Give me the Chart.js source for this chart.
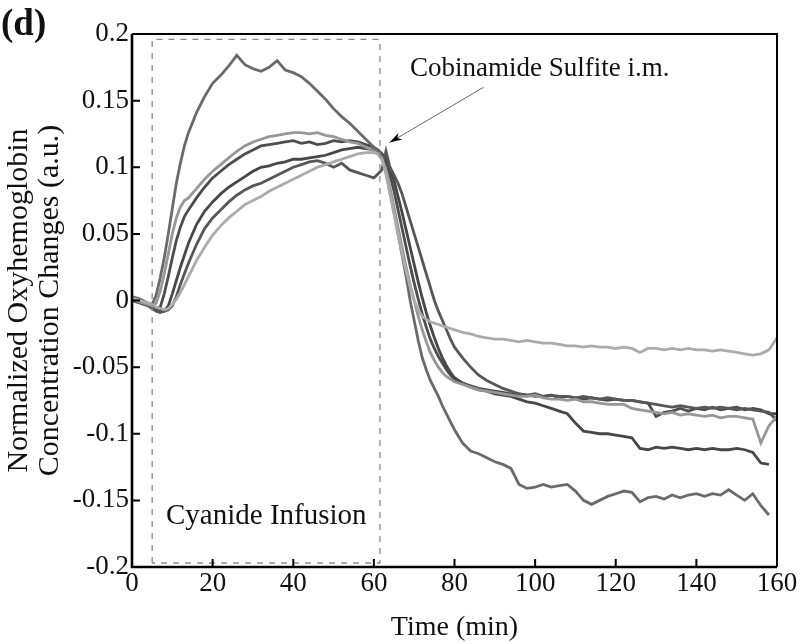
<!DOCTYPE html>
<html><head><meta charset="utf-8">
<script src="https://cdn.jsdelivr.net/npm/chart.js@4/dist/chart.umd.min.js"></script>
<style>html,body{margin:0;padding:0;background:#fff}</style>
</head><body>
<canvas id="c" width="800" height="644"></canvas>
<script>
// Time grid (min)
const time = [0,2,4,5,6,7,8,9,10,11,12,13,14,
  16,18,20,22,24,26,28,30,32,34,36,38,40,42,44,46,48,50,52,54,56,58,60,
  61,62,63,64,65,66,67,68,69,70,71,72,73,74,75,76,77,78,79,80,
  82,84,86,88,90,92,94,96,98,100,102,104,106,108,110,112,114,116,118,120,
  122,124,126,128,130,132,134,136,138,140,142,144,146,148,150,152,154,156,158,160];

// Series values (normalized oxyhemoglobin change, a.u.)
const seriesA = [0.003,0.001,-0.002,-0.003,0.004,0.017,0.032,0.05,0.069,0.088,0.103,0.116,0.126,
  0.141,0.153,0.163,0.169,0.176,0.184,0.177,0.174,0.172,0.175,0.18,0.173,0.171,0.168,0.163,0.157,0.151,0.144,0.138,0.133,0.127,0.121,0.115,
  0.112,0.108,0.096,0.081,0.066,0.05,0.034,0.018,0.0,-0.015,-0.03,-0.043,-0.052,-0.06,-0.066,-0.072,-0.079,-0.085,-0.091,-0.097,
  -0.107,-0.113,-0.115,-0.118,-0.121,-0.123,-0.126,-0.138,-0.141,-0.14,-0.138,-0.14,-0.139,-0.138,-0.143,-0.15,-0.153,-0.15,-0.147,-0.145,
  -0.143,-0.144,-0.151,-0.148,-0.147,-0.149,-0.146,-0.148,-0.146,-0.145,-0.147,-0.145,-0.146,-0.142,-0.146,-0.15,-0.145,-0.154,-0.161,null];
const seriesB = [0.001,-0.001,-0.003,-0.004,-0.002,0.007,0.02,0.035,0.05,0.062,0.07,0.075,0.077,
  0.084,0.091,0.097,0.102,0.107,0.112,0.116,0.119,0.121,0.123,0.124,0.125,0.126,0.126,0.125,0.126,0.124,0.123,0.121,0.119,0.118,0.115,0.112,
  0.11,0.106,0.098,0.085,0.07,0.055,0.04,0.025,0.012,0.0,-0.012,-0.022,-0.031,-0.039,-0.045,-0.05,-0.054,-0.057,-0.059,-0.061,
  -0.063,-0.065,-0.067,-0.068,-0.069,-0.07,-0.071,-0.072,-0.072,-0.071,-0.073,-0.074,-0.074,-0.075,-0.074,-0.076,-0.076,-0.077,-0.078,-0.078,
  -0.078,-0.081,-0.082,-0.083,-0.084,-0.085,-0.084,-0.086,-0.085,-0.086,-0.087,-0.086,-0.088,-0.087,-0.087,-0.088,-0.089,-0.107,-0.094,-0.087];
const seriesC = [0.002,0.0,-0.002,-0.004,-0.006,-0.005,0.005,0.018,0.032,0.045,0.055,0.063,0.068,
  0.077,0.085,0.092,0.097,0.102,0.106,0.11,0.113,0.116,0.117,0.118,0.119,0.12,0.118,0.119,0.117,0.118,0.12,0.119,0.12,0.119,0.117,0.115,
  0.113,0.11,0.104,0.094,0.082,0.068,0.054,0.04,0.026,0.013,0.001,-0.01,-0.02,-0.029,-0.036,-0.042,-0.047,-0.052,-0.056,-0.059,
  -0.062,-0.064,-0.066,-0.067,-0.068,-0.069,-0.07,-0.07,-0.071,-0.072,-0.072,-0.071,-0.073,-0.072,-0.073,-0.074,-0.073,-0.074,-0.075,-0.074,
  -0.075,-0.075,-0.076,-0.077,-0.087,-0.084,-0.083,-0.081,-0.083,-0.081,-0.082,-0.08,-0.082,-0.081,-0.08,-0.082,-0.081,-0.082,-0.085,-0.085];
const seriesD = [0.001,-0.001,-0.003,-0.005,-0.007,-0.008,-0.008,-0.004,0.005,0.015,0.025,0.034,0.043,
  0.057,0.067,0.074,0.08,0.085,0.089,0.093,0.097,0.1,0.101,0.103,0.104,0.106,0.106,0.107,0.108,0.109,0.111,0.113,0.114,0.115,0.114,0.113,
  0.112,0.11,0.106,0.099,0.09,0.078,0.066,0.053,0.04,0.027,0.014,0.002,-0.009,-0.019,-0.028,-0.036,-0.043,-0.049,-0.054,-0.058,
  -0.062,-0.065,-0.067,-0.068,-0.07,-0.071,-0.072,-0.074,-0.076,-0.077,-0.079,-0.081,-0.083,-0.085,-0.092,-0.098,-0.099,-0.1,-0.1,-0.101,
  -0.102,-0.103,-0.111,-0.112,-0.11,-0.111,-0.11,-0.111,-0.112,-0.111,-0.112,-0.111,-0.112,-0.112,-0.111,-0.112,-0.114,-0.122,-0.123,null];
const seriesE = [0.0,-0.002,-0.004,-0.006,-0.008,-0.009,-0.008,-0.007,-0.004,0.003,0.012,0.02,0.028,
  0.042,0.054,0.062,0.068,0.074,0.079,0.083,0.086,0.088,0.091,0.094,0.097,0.1,0.102,0.104,0.105,0.103,0.1,0.103,0.098,0.096,0.094,0.092,
  0.095,0.098,0.112,0.1,0.094,0.088,0.08,0.07,0.06,0.05,0.04,0.03,0.02,0.01,0.0,-0.008,-0.015,-0.022,-0.029,-0.035,
  -0.043,-0.05,-0.056,-0.06,-0.063,-0.066,-0.068,-0.07,-0.071,-0.07,-0.072,-0.071,-0.072,-0.072,-0.073,-0.072,-0.073,-0.074,-0.073,-0.074,
  -0.075,-0.075,-0.076,-0.077,-0.078,-0.079,-0.08,-0.079,-0.08,-0.081,-0.08,-0.081,-0.08,-0.081,-0.082,-0.081,-0.082,-0.083,-0.084,-0.09];
const seriesG = [0.002,0.0,-0.002,-0.003,-0.005,-0.006,-0.007,-0.006,-0.003,0.001,0.006,0.012,0.018,
  0.03,0.04,0.049,0.056,0.062,0.067,0.072,0.075,0.078,0.082,0.085,0.088,0.091,0.094,0.097,0.1,0.102,0.104,0.106,0.108,0.11,0.111,0.111,
  0.11,0.106,0.095,0.08,0.065,0.05,0.035,0.022,0.01,0.0,-0.007,-0.012,-0.014,-0.016,-0.017,-0.018,-0.019,-0.02,-0.021,-0.022,
  -0.024,-0.025,-0.027,-0.028,-0.029,-0.029,-0.03,-0.031,-0.03,-0.031,-0.032,-0.032,-0.033,-0.034,-0.034,-0.035,-0.034,-0.035,-0.035,-0.036,
  -0.035,-0.036,-0.039,-0.036,-0.036,-0.037,-0.036,-0.037,-0.036,-0.037,-0.037,-0.038,-0.037,-0.038,-0.039,-0.04,-0.041,-0.04,-0.037,-0.028];

// Cyanide infusion window (dashed box)
const infusionX = [5, 5, 61.5, 61.5, 5];
const infusionY = [-0.197, 0.196, 0.196, -0.197, -0.197];

// Ticks
const xTickValues = [0,20,40,60,80,100,120,140,160];
const yTickValues = [0.2,0.15,0.1,0.05,0,-0.05,-0.1,-0.15,-0.2];

// Annotation anchors (data coords)
const arrowFrom = {x: 87.2, y: 0.16};
const arrowTo = {x: 63.9, y: 0.1185};

const SERIF = '"Liberation Serif", "Times New Roman", serif';

function pts(vals){ return time.map((t,i)=>({x:t, y:vals[i]})); }
function line(vals, color){
  return {data: pts(vals), borderColor: color, borderWidth: 2.8, pointRadius: 0, tension: 0, fill: false, spanGaps: false};
}

const decor = {
  id: 'decor',
  afterDraw(chart){
    const {ctx, chartArea: a, scales: {x, y}} = chart;
    ctx.save();
    ctx.strokeStyle = '#000';
    ctx.lineWidth = 2;
    ctx.beginPath();
    ctx.moveTo(a.left, a.top); ctx.lineTo(a.right, a.top); ctx.lineTo(a.right, a.bottom);
    ctx.stroke();
    ctx.lineWidth = 2.6;
    ctx.beginPath();
    ctx.moveTo(a.left, a.top); ctx.lineTo(a.left, a.bottom); ctx.lineTo(a.right, a.bottom);
    ctx.stroke();
    ctx.lineWidth = 2;
    ctx.beginPath();
    xTickValues.slice(1, -1).forEach(v => { const px = x.getPixelForValue(v); ctx.moveTo(px, a.bottom); ctx.lineTo(px, a.bottom - 8); });
    yTickValues.slice(1, -1).forEach(v => { const py = y.getPixelForValue(v); ctx.moveTo(a.left, py); ctx.lineTo(a.left + 8, py); });
    ctx.stroke();
    const x1 = x.getPixelForValue(arrowFrom.x), y1 = y.getPixelForValue(arrowFrom.y);
    const x2 = x.getPixelForValue(arrowTo.x), y2 = y.getPixelForValue(arrowTo.y);
    ctx.strokeStyle = '#666'; ctx.lineWidth = 1;
    ctx.beginPath(); ctx.moveTo(x1, y1); ctx.lineTo(x2, y2); ctx.stroke();
    const ang = Math.atan2(y2 - y1, x2 - x1);
    ctx.fillStyle = '#000';
    ctx.beginPath();
    ctx.moveTo(x2, y2);
    ctx.lineTo(x2 - 13*Math.cos(ang - 0.3), y2 - 13*Math.sin(ang - 0.3));
    ctx.lineTo(x2 - 9*Math.cos(ang), y2 - 9*Math.sin(ang));
    ctx.lineTo(x2 - 13*Math.cos(ang + 0.3), y2 - 13*Math.sin(ang + 0.3));
    ctx.closePath(); ctx.fill();
    ctx.fillStyle = '#111';
    ctx.textBaseline = 'alphabetic';
    ctx.textAlign = 'left';
    ctx.font = '27px ' + SERIF;
    ctx.fillText('Cobinamide Sulfite i.m.', 410, 76);
    ctx.font = '29px ' + SERIF;
    ctx.fillText('Cyanide Infusion', 166, 524);
    ctx.font = 'bold 37px ' + SERIF;
    ctx.fillText('(d)', 1, 35);
    ctx.restore();
  }
};

new Chart(document.getElementById('c'), {
  type: 'line',
  data: {
    datasets: [
      {data: infusionX.map((v,i)=>({x:v, y:infusionY[i]})), borderColor: '#8a8a8a', borderWidth: 1.3, borderDash: [6,6], pointRadius: 0, tension: 0, fill: false},
      line(seriesG, '#ababab'),
      line(seriesB, '#979797'),
      line(seriesA, '#6a6a6a'),
      line(seriesE, '#575757'),
      line(seriesD, '#474747'),
      line(seriesC, '#4d4d4d')
    ]
  },
  options: {
    responsive: false,
    animation: false,
    layout: {padding: {top: 34, right: 23, left: 0, bottom: 0}},
    plugins: {legend: {display: false}, tooltip: {enabled: false}},
    scales: {
      x: {
        type: 'linear', min: 0, max: 160,
        afterFit(s){ s.height = 77; },
        afterBuildTicks(s){ s.ticks = xTickValues.map(v=>({value:v})); },
        grid: {display: false, drawTicks: false},
        border: {display: false},
        ticks: {color: '#111', font: {family: SERIF, size: 27}, padding: 1, maxRotation: 0, autoSkip: false, callback: v => String(v)},
        title: {display: true, text: 'Time (min)', color: '#111', font: {family: SERIF, size: 28, lineHeight: 1.2}, padding: {top: 0, bottom: 0}}
      },
      y: {
        type: 'linear', min: -0.2, max: 0.2,
        afterFit(s){ s.width = 132; },
        afterBuildTicks(s){ s.ticks = yTickValues.map(v=>({value:v})); },
        grid: {display: false, drawTicks: false},
        border: {display: false},
        ticks: {color: '#111', font: {family: SERIF, size: 27}, padding: 3, autoSkip: false, callback: v => String(Math.round(v*100)/100)},
        title: {display: true, text: ['Normalized Oxyhemoglobin', 'Concentration Changes (a.u.)'], color: '#111', font: {family: SERIF, size: 30, lineHeight: 1.03}, padding: {top: 4, bottom: 0}}
      }
    }
  },
  plugins: [decor]
});
</script>
</body></html>
